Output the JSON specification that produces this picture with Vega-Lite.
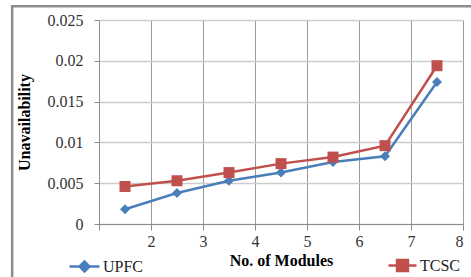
{
  "$schema": "https://vega.github.io/schema/vega-lite/v6.json",
  "width": 364,
  "height": 204,
  "autosize": "none",
  "padding": {"left": 99, "top": 20, "right": 8, "bottom": 53},
  "background": "white",
  "config": {
    "font": "Liberation Serif",
    "view": {"stroke": null},
    "axis": {
      "labelFont": "Liberation Serif",
      "titleFont": "Liberation Serif",
      "labelFontSize": 16,
      "titleFontSize": 16,
      "labelColor": "#333333",
      "titleColor": "#000000",
      "titleFontWeight": "bold",
      "domainColor": "#8c8c8c",
      "tickColor": "#8c8c8c"
    },
    "style": {"guide-label": {"font": "Liberation Serif"}, "guide-title": {"font": "Liberation Serif"}},
    "legend": {"labelFont": "Liberation Serif"}
  },
  "data": {
    "values": [
      {"modules": 1.5, "series": "UPFC", "value": 0.0018},
      {"modules": 2.5, "series": "UPFC", "value": 0.0038},
      {"modules": 3.5, "series": "UPFC", "value": 0.0053},
      {"modules": 4.5, "series": "UPFC", "value": 0.0063},
      {"modules": 5.5, "series": "UPFC", "value": 0.0076},
      {"modules": 6.5, "series": "UPFC", "value": 0.0083},
      {"modules": 7.5, "series": "UPFC", "value": 0.0174},
      {"modules": 1.5, "series": "TCSC", "value": 0.0046},
      {"modules": 2.5, "series": "TCSC", "value": 0.0053},
      {"modules": 3.5, "series": "TCSC", "value": 0.0063},
      {"modules": 4.5, "series": "TCSC", "value": 0.0074},
      {"modules": 5.5, "series": "TCSC", "value": 0.0082},
      {"modules": 6.5, "series": "TCSC", "value": 0.0096},
      {"modules": 7.5, "series": "TCSC", "value": 0.0194}
    ]
  },
  "layer": [
    {
      "transform": [{"filter": "datum.series == 'UPFC'"}],
      "mark": {"type": "line", "strokeWidth": 2.5, "point": {"shape": "diamond", "size": 100, "filled": true}},
      "encoding": {
        "x": {"field": "modules", "type": "quantitative", "scale": {"domain": [1, 8], "nice": false, "zero": false},
          "axis": {"title": "No. of Modules", "labelFont": "Liberation Serif", "values": [1, 2, 3, 4, 5, 6, 7, 8], "labelExpr": "datum.value == 1 ? '' : datum.label", "grid": true, "gridColor": "#9a9a9a", "gridWidth": 1, "tickSize": 6, "labelPadding": 3, "titlePadding": 3}},
        "y": {"field": "value", "type": "quantitative", "scale": {"domain": [0, 0.025], "nice": false, "zero": false},
          "axis": {"title": "Unavailability", "labelFont": "Liberation Serif", "values": [0, 0.005, 0.01, 0.015, 0.02, 0.025], "format": ".3~f", "grid": true, "gridColor": "#cccccc", "gridWidth": 1.5, "tickSize": 5, "labelPadding": 11, "titlePadding": 15}},
        "color": {"field": "series", "type": "nominal", "scale": {"domain": ["UPFC"], "range": ["#4a7ebb"]},
          "legend": {"title": null, "orient": "none", "legendX": -31, "legendY": 230, "padding": 0,
            "symbolType": "M-1,0H1M-0.33,0L0,-0.33L0.33,0L0,0.33Z", "symbolSize": 900, "symbolStrokeWidth": 2.5,
            "symbolFillColor": "#4a7ebb", "symbolStrokeColor": "#4a7ebb", "labelFontSize": 16, "labelColor": "#222222", "labelOffset": 2}}
      }
    },
    {
      "transform": [{"filter": "datum.series == 'TCSC'"}],
      "mark": {"type": "line", "strokeWidth": 2.5, "point": {"shape": "square", "size": 121, "filled": true}},
      "encoding": {
        "x": {"field": "modules", "type": "quantitative", "scale": {"domain": [1, 8], "nice": false, "zero": false},
          "axis": {"title": "No. of Modules", "labelFont": "Liberation Serif", "values": [1, 2, 3, 4, 5, 6, 7, 8], "labelExpr": "datum.value == 1 ? '' : datum.label", "grid": true, "gridColor": "#9a9a9a", "gridWidth": 1, "tickSize": 6, "labelPadding": 3, "titlePadding": 3}},
        "y": {"field": "value", "type": "quantitative", "scale": {"domain": [0, 0.025], "nice": false, "zero": false},
          "axis": {"title": "Unavailability", "labelFont": "Liberation Serif", "values": [0, 0.005, 0.01, 0.015, 0.02, 0.025], "format": ".3~f", "grid": true, "gridColor": "#cccccc", "gridWidth": 1.5, "tickSize": 5, "labelPadding": 11, "titlePadding": 15}},
        "color": {"field": "series", "type": "nominal", "scale": {"domain": ["TCSC"], "range": ["#c0504d"]},
          "legend": {"title": null, "orient": "none", "legendX": 288, "legendY": 230, "padding": 0,
            "symbolType": "M-1,0H1M-0.39,-0.39H0.39V0.39H-0.39Z", "symbolSize": 784, "symbolStrokeWidth": 2.5,
            "symbolFillColor": "#c0504d", "symbolStrokeColor": "#c0504d", "labelFontSize": 16, "labelColor": "#222222", "labelOffset": 2}}
      }
    },
    {
      "data": {"values": [{"frame": "left"}]},
      "mark": {"type": "rule", "clip": false, "color": "#8c8c8c", "strokeWidth": 2.5},
      "encoding": {
        "x": {"datum": -0.67, "type": "quantitative", "scale": {"domain": [1, 8], "nice": false, "zero": false},
          "axis": {"title": "No. of Modules", "labelFont": "Liberation Serif", "values": [1, 2, 3, 4, 5, 6, 7, 8], "labelExpr": "datum.value == 1 ? '' : datum.label", "grid": true, "gridColor": "#9a9a9a", "gridWidth": 1, "tickSize": 6, "labelPadding": 3, "titlePadding": 3}},
        "y": {"datum": 0.0267, "type": "quantitative", "scale": {"domain": [0, 0.025], "nice": false, "zero": false},
          "axis": {"title": "Unavailability", "labelFont": "Liberation Serif", "values": [0, 0.005, 0.01, 0.015, 0.02, 0.025], "format": ".3~f", "grid": true, "gridColor": "#cccccc", "gridWidth": 1.5, "tickSize": 5, "labelPadding": 11, "titlePadding": 15}},
        "y2": {"datum": -0.008}
      }
    },
    {
      "data": {"values": [{"frame": "top"}]},
      "mark": {"type": "rule", "clip": false, "color": "#8c8c8c", "strokeWidth": 2.5},
      "encoding": {
        "x": {"datum": -0.69, "type": "quantitative", "scale": {"domain": [1, 8], "nice": false, "zero": false},
          "axis": {"title": "No. of Modules", "labelFont": "Liberation Serif", "values": [1, 2, 3, 4, 5, 6, 7, 8], "labelExpr": "datum.value == 1 ? '' : datum.label", "grid": true, "gridColor": "#9a9a9a", "gridWidth": 1, "tickSize": 6, "labelPadding": 3, "titlePadding": 3}},
        "x2": {"datum": 8.3},
        "y": {"datum": 0.0267, "type": "quantitative", "scale": {"domain": [0, 0.025], "nice": false, "zero": false},
          "axis": {"title": "Unavailability", "labelFont": "Liberation Serif", "values": [0, 0.005, 0.01, 0.015, 0.02, 0.025], "format": ".3~f", "grid": true, "gridColor": "#cccccc", "gridWidth": 1.5, "tickSize": 5, "labelPadding": 11, "titlePadding": 15}}
      }
    }
  ],
  "resolve": {"scale": {"color": "independent"}, "legend": {"color": "independent"}}
}
